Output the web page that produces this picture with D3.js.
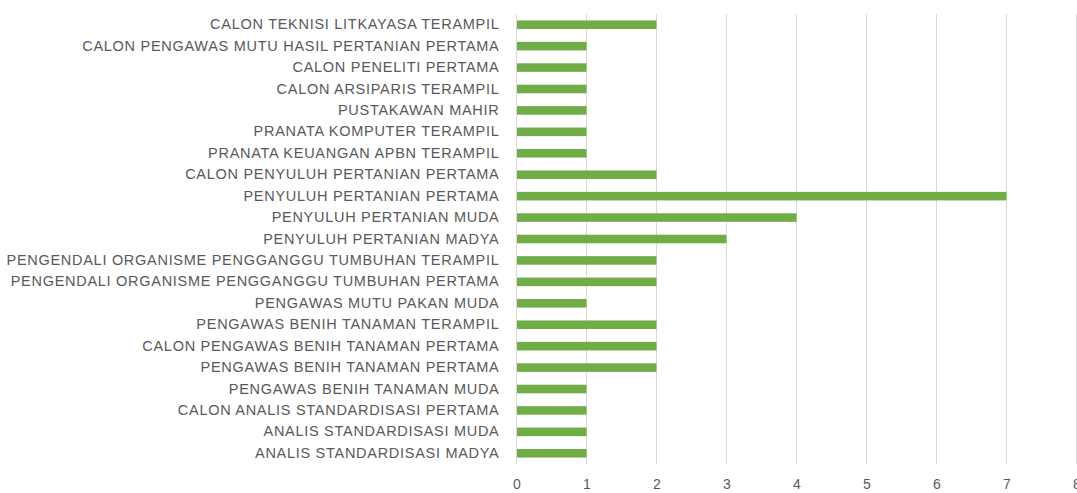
<!DOCTYPE html>
<html>
<head>
<meta charset="utf-8">
<script src="https://cdn.jsdelivr.net/npm/d3@7"></script>
<style>
  html, body { margin: 0; padding: 0; background: #fff; }
  svg { display: block; }
</style>
</head>
<body>
<svg id="chart" width="1077" height="493"></svg>
<script>
const categories = [
  "CALON TEKNISI LITKAYASA TERAMPIL",
  "CALON PENGAWAS MUTU HASIL PERTANIAN PERTAMA",
  "CALON PENELITI PERTAMA",
  "CALON ARSIPARIS TERAMPIL",
  "PUSTAKAWAN MAHIR",
  "PRANATA KOMPUTER TERAMPIL",
  "PRANATA KEUANGAN APBN TERAMPIL",
  "CALON PENYULUH PERTANIAN PERTAMA",
  "PENYULUH PERTANIAN PERTAMA",
  "PENYULUH PERTANIAN MUDA",
  "PENYULUH PERTANIAN MADYA",
  "PENGENDALI ORGANISME PENGGANGGU TUMBUHAN TERAMPIL",
  "PENGENDALI ORGANISME PENGGANGGU TUMBUHAN PERTAMA",
  "PENGAWAS MUTU PAKAN MUDA",
  "PENGAWAS BENIH TANAMAN TERAMPIL",
  "CALON PENGAWAS BENIH TANAMAN PERTAMA",
  "PENGAWAS BENIH TANAMAN PERTAMA",
  "PENGAWAS BENIH TANAMAN MUDA",
  "CALON ANALIS STANDARDISASI PERTAMA",
  "ANALIS STANDARDISASI MUDA",
  "ANALIS STANDARDISASI MADYA"
];
const values = [2, 1, 1, 1, 1, 1, 1, 2, 7, 4, 3, 2, 2, 1, 2, 2, 2, 1, 1, 1, 1];
const xTicks = [0, 1, 2, 3, 4, 5, 6, 7, 8];

const svg = d3.select("#chart");
const mLeft = 516.5, mRight = 1076.5, mTop = 14, mBottom = 464;

const x = d3.scaleLinear().domain([0, 8]).range([mLeft, mRight]);
const y = d3.scaleBand().domain(categories).range([mTop, mBottom]).paddingInner(0.6).paddingOuter(0.3);

// gridlines
svg.append("g").selectAll("line").data(xTicks).join("line")
  .attr("x1", d => x(d)).attr("x2", d => x(d))
  .attr("y1", mTop).attr("y2", mBottom)
  .attr("stroke", "#d9d9d9").attr("stroke-width", 1);

// bars
svg.append("g").selectAll("rect").data(categories).join("rect")
  .attr("x", x(0) + 0.5)
  .attr("y", d => y(d))
  .attr("width", (d, i) => x(values[i]) - x(0) - 0.5)
  .attr("height", y.bandwidth())
  .attr("fill", "#70ad47");

// x axis labels
const xAxis = d3.axisBottom(x).tickValues(xTicks).tickSize(0).tickPadding(15);
const gx = svg.append("g").attr("transform", `translate(0,${mBottom})`).call(xAxis);
gx.select(".domain").remove();
gx.selectAll("text")
  .attr("font-family", "Liberation Sans Narrow, Liberation Sans, Arial, sans-serif")
  .attr("font-size", 14).attr("fill", "#595959");

// y axis labels
const yAxis = d3.axisLeft(y).tickSize(0).tickPadding(17);
const gy = svg.append("g").attr("transform", `translate(${mLeft},0)`).call(yAxis);
gy.select(".domain").remove();
const labels = gy.selectAll("text")
  .attr("font-family", "Liberation Sans Narrow, Liberation Sans, Arial, sans-serif")
  .attr("font-size", 14.5).attr("fill", "#595959");

// fit letter-spacing so the longest label spans like the reference
let maxW = 0, maxN = 1;
labels.each(function(d) {
  const w = this.getComputedTextLength();
  if (w > maxW) { maxW = w; maxN = d.length; }
});
const targetW = 493;
const ls = (targetW - maxW) / maxN;
labels.attr("letter-spacing", ls);
</script>
</body>
</html>
